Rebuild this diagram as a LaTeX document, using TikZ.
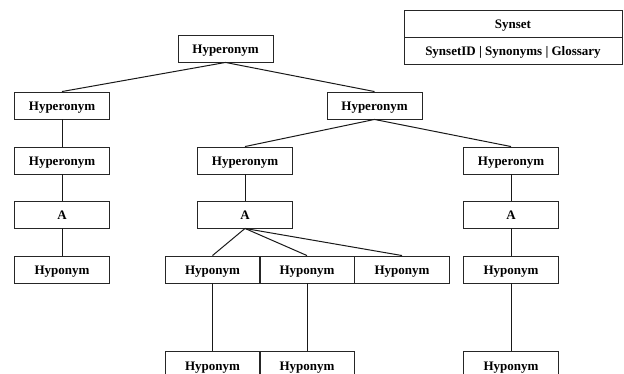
\documentclass[tikz,border=0pt]{standalone}
\usepackage{fontspec}
\setmainfont{Liberation Serif}
\begin{document}
\begin{tikzpicture}[x=1pt,y=-1pt,
  txt/.style={text height=11.5pt,text depth=0.5pt,inner sep=0pt,font=\bfseries\fontsize{13}{15}\selectfont},
  box/.style={txt,draw=black!85,line width=0.9pt,minimum width=95pt,minimum height=27pt},
  legbox/.style={txt,draw=black!85,line width=0.9pt,minimum width=218pt,minimum height=27pt},
  link/.style={draw=black!90,line width=1pt}]
\useasboundingbox (0,0) rectangle (624,374);
% legend
\node[legbox] (legt) at (513,23.5) {Synset};
\node[legbox] (legb) at (513,50.5) {SynsetID | Synonyms | Glossary};
% tree
\node[box] (top) at (225.5,48.5) {Hyperonym};
\node[box] (l1) at (62,105.5) {Hyperonym};
\node[box] (r1) at (374.5,105.5) {Hyperonym};
\node[box] (l2) at (62,160.5) {Hyperonym};
\node[box] (la) at (62,214.5) {A};
\node[box] (lh) at (62,269.5) {Hyponym};
\node[box] (m2) at (245,160.5) {Hyperonym};
\node[box] (ma) at (245,214.5) {A};
\node[box] (mh1) at (212.5,269.5) {Hyponym};
\node[box] (mh2) at (307,269.5) {Hyponym};
\node[box] (mh3) at (402,269.5) {Hyponym};
\node[box] (mb1) at (212.5,364.5) {Hyponym};
\node[box] (mb2) at (307,364.5) {Hyponym};
\node[box] (r2) at (511,160.5) {Hyperonym};
\node[box] (ra) at (511,214.5) {A};
\node[box] (rh) at (511,269.5) {Hyponym};
\node[box] (rb) at (511,364.5) {Hyponym};
% connectors
\draw[link] (top.south) -- (l1.north);
\draw[link] (top.south) -- (r1.north);
\draw[link] (l1.south) -- (l2.north);
\draw[link] (l2.south) -- (la.north);
\draw[link] (la.south) -- (lh.north);
\draw[link] (r1.south) -- (m2.north);
\draw[link] (r1.south) -- (r2.north);
\draw[link] (m2.south) -- (ma.north);
\draw[link] (ma.south) -- (mh1.north);
\draw[link] (ma.south) -- (mh2.north);
\draw[link] (ma.south) -- (mh3.north);
\draw[link] (mh1.south) -- (mb1.north);
\draw[link] (mh2.south) -- (mb2.north);
\draw[link] (r2.south) -- (ra.north);
\draw[link] (ra.south) -- (rh.north);
\draw[link] (rh.south) -- (rb.north);
\end{tikzpicture}
\end{document}
